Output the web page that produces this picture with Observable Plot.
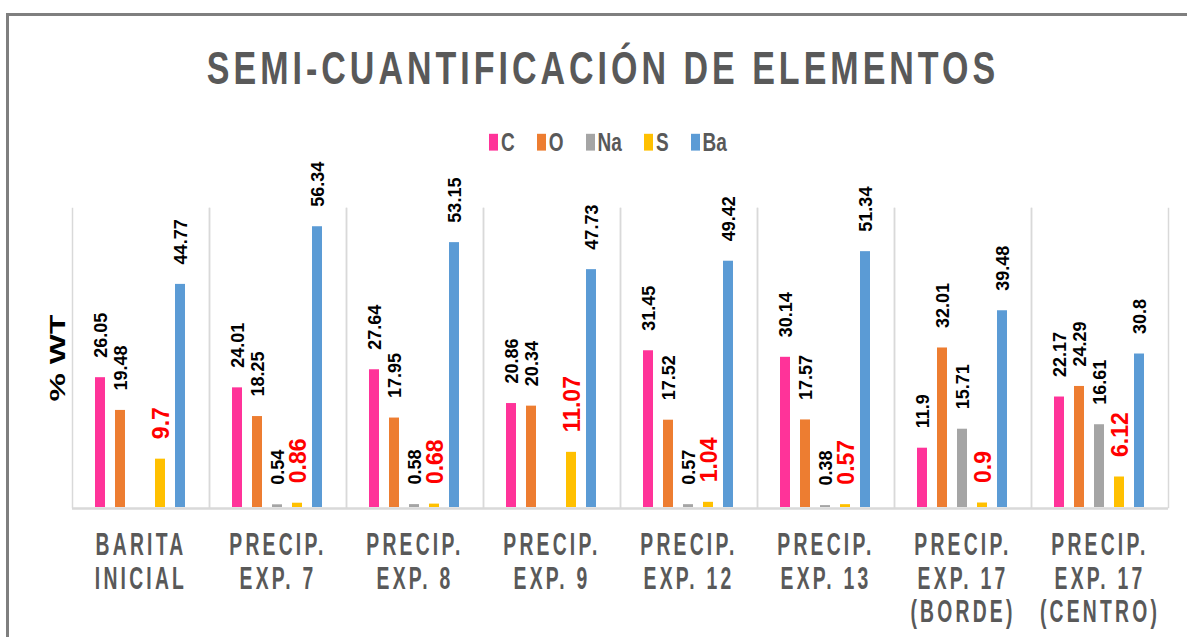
<!DOCTYPE html>
<html>
<head>
<meta charset="utf-8">
<script src="https://cdn.jsdelivr.net/npm/d3@7"></script>
<script src="https://cdn.jsdelivr.net/npm/@observablehq/plot@0.6"></script>
<style>
  html, body { margin: 0; padding: 0; background: #fff; overflow: hidden; }
  #wrap { position: relative; width: 1187px; height: 637px; overflow: hidden; font-family: "Liberation Sans", Arial, sans-serif; }
  #border { position: absolute; left: 6px; top: 13px; width: 1400px; height: 900px; border: 3px solid #7f7f7f; box-sizing: border-box; z-index: 0; }
  #title { position: relative; height: 120px; z-index: 1; }
  #title span { position: absolute; left: 0; width: 1206px; top: 45px; text-align: center; font-size: 34px; line-height: 34px; font-weight: bold; letter-spacing: 4px; color: #595959; transform: scaleY(1.35); transform-origin: 50% 0; white-space: nowrap; }
  #legend { position: relative; height: 40px; z-index: 1; }
  #legend > div { position: absolute; left: 0; width: 1216px; top: 5px; transform: scaleY(1.4); transform-origin: 50% 50%; }
  #legend .lg-swatches { font-family: "Liberation Sans", Arial, sans-serif; font-size: 19px; font-weight: bold; color: #595959; margin: 0; justify-content: center; min-height: 33px; }
  #legend .lg-swatch { margin-right: 22px; }
  #legend .lg-swatch:last-child { margin-right: 0; }
  #legend .lg-swatch > svg { margin-right: 3px; }
  #chart { position: relative; z-index: 1; }
  #chart svg { overflow: visible; background: transparent; display: block; }
</style>
</head>
<body>
<div id="wrap">
  <div id="border"></div>
  <div id="title"><span>SEMI-CUANTIFICACIÓN DE ELEMENTOS</span></div>
  <div id="legend"></div>
  <div id="chart"></div>
</div>
<script>
const categories = ["BARITA\nINICIAL", "PRECIP.\nEXP. 7", "PRECIP.\nEXP. 8", "PRECIP.\nEXP. 9", "PRECIP.\nEXP. 12", "PRECIP.\nEXP. 13", "PRECIP.\nEXP. 17\n(BORDE)", "PRECIP.\nEXP. 17\n(CENTRO)"];
const elements = ["C", "O", "Na", "S", "Ba"];
const colors = ["#FF3399", "#ED7D31", "#A5A5A5", "#FFC000", "#5B9BD5"];
const valC  = [26.05, 24.01, 27.64, 20.86, 31.45, 30.14, 11.9, 22.17];
const valO  = [19.48, 18.25, 17.95, 20.34, 17.52, 17.57, 32.01, 24.29];
const valNa = [null, 0.54, 0.58, null, 0.57, 0.38, 15.71, 16.61];
const valS  = [9.7, 0.86, 0.68, 11.07, 1.04, 0.57, 0.9, 6.12];
const valBa = [44.77, 56.34, 53.15, 47.73, 49.42, 51.34, 39.48, 30.8];
const yLabel = "% WT";

const series = {C: valC, O: valO, Na: valNa, S: valS, Ba: valBa};
const rows = [];
categories.forEach((cat, i) => elements.forEach(el => {
  const v = series[el][i];
  if (v != null) rows.push({cat, el, v});
}));

const legend = Plot.legend({
  color: {domain: elements, range: colors},
  legend: "swatches",
  swatchWidth: 9,
  swatchHeight: 12,
  className: "lg"
});
document.getElementById("legend").appendChild(legend);

const chart = Plot.plot({
  width: 1187,
  height: 477,
  marginLeft: 70,
  marginRight: 17,
  marginTop: 48,
  marginBottom: 130,
  style: {fontFamily: "'Liberation Sans', Arial, sans-serif", background: "transparent", overflow: "visible"},
  fx: {domain: categories, padding: 0, label: null},
  x: {domain: elements, axis: null, paddingInner: 0.479, paddingOuter: 1.15, align: 0.5},
  y: {domain: [0, 60]},
  color: {domain: elements, range: colors},
  marks: [
    Plot.frame({anchor: "left", stroke: "#d9d9d9", strokeWidth: 1.5}),
    Plot.frame({anchor: "right", stroke: "#d9d9d9", strokeWidth: 1.5}),
    Plot.barY(rows, {fx: "cat", x: "el", y: "v", fill: "el"}),
    Plot.ruleY([0], {stroke: "#d9d9d9", strokeWidth: 2.5, dy: 1}),
    Plot.text(rows.filter(d => d.el !== "S"), {
      fx: "cat", x: "el", y: "v", text: d => String(d.v),
      rotate: -90, textAnchor: "start", dy: -20, dx: 1,
      fontSize: 18, fontWeight: "bold", fill: "#000", ariaLabel: "value-label"
    }),
    Plot.text(rows.filter(d => d.el === "S"), {
      fx: "cat", x: "el", y: "v", text: d => String(d.v),
      rotate: -90, textAnchor: "start", dy: -20, dx: 1,
      fontSize: 23, fontWeight: "bold", fill: "#FF0000", ariaLabel: "value-label"
    }),
    Plot.axisFx({anchor: "bottom", tickSize: 0, tickPadding: 24, label: null,
      fontSize: 21, fontWeight: "bold", fill: "#595959", lineHeight: 1.1}),
    Plot.axisY({anchor: "left", ticks: [], tickSize: 0, label: yLabel, labelAnchor: "center",
      labelOffset: 23, fontSize: 22, fontWeight: "bold", fill: "#000", labelArrow: "none"})
  ]
});
document.getElementById("chart").appendChild(chart);

const s = d3.select(chart);
const addT = (sel, extra) => sel.attr("transform", function() { return (this.getAttribute("transform") || "") + " " + extra; });
addT(s.selectAll('[aria-label="fx-axis tick label"] text'), "scale(0.92,1.45)")
  .style("letter-spacing", "3.5px").attr("font-size", 21).attr("font-weight", "bold").attr("fill", "#595959");
addT(s.selectAll('[aria-label="y-axis label"] text'), "scale(1.45,1)")
  .attr("font-size", 22).attr("font-weight", "bold").attr("fill", "#000");
addT(s.selectAll('[aria-label="value-label"] text'), "scale(1.25,1)");
</script>
</body>
</html>
